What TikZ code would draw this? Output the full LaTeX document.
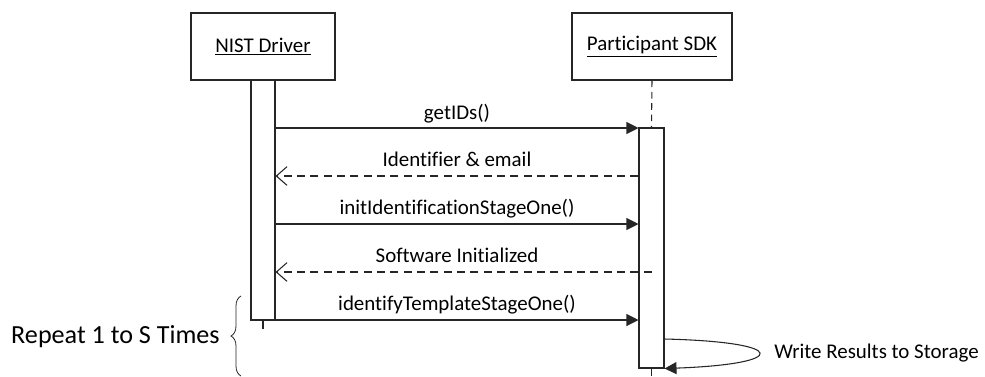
\documentclass[tikz,border=0pt]{standalone}
\usepackage{fontspec}
\setmainfont[Ligatures={NoCommon}]{Carlito}
\usetikzlibrary{arrows.meta,decorations.pathreplacing}
\tikzset{
  obj/.style={draw=black!85, line width=0.8pt, minimum width=108pt, minimum height=50.25pt, font=\fontsize{15.7}{18}\selectfont},
  actbar/.style={draw=black!85, line width=0.8pt, minimum height=180pt, inner sep=0pt},
  msg/.style={draw=black!85, line width=0.8pt, -{Triangle[length=9pt,width=9pt]}},
  ret/.style={draw=black!85, line width=0.8pt, dash pattern=on 6pt off 4pt, -{Straight Barb[length=8pt,width=14pt]}},
  life/.style={draw=black!85, line width=0.8pt, dash pattern=on 5pt off 3.5pt},
  lbl/.style={font=\fontsize{15.7}{18}\selectfont, anchor=base, inner sep=0pt}
}
\begin{document}
\begin{tikzpicture}[x=0.75pt,y=-0.75pt]
\useasboundingbox (0,0) rectangle (985,376);
% objects
\node[obj] (nist) at (263,46.5) {\underline{NIST Driver}};
\node[obj, minimum width=120pt] (sdk) at (652,46.5) {\underline{Participant SDK}};
% activation bars
\node[actbar, minimum width=18pt] (nistbar) at (263,200) {};
\node[actbar, minimum width=18.75pt] (sdkbar) at (651.5,248) {};
% lifelines
\draw[life] (sdk.south) -- (sdkbar.north);
\coordinate (nistend) at (263,329);
\coordinate (sdkend) at (651.5,376);
\draw[draw=black!85, line width=0.8pt] (nistbar.south) -- (nistend);
\draw[draw=black!85, line width=0.8pt] (sdkbar.south) -- (sdkend);
% messages
\draw[msg] (nistbar.east |- 0,128) -- (sdkbar.west |- 0,128);
\node[lbl] (m1) at (457,119) {getIDs()};
\draw[ret] (sdkbar.west |- 0,176) -- (nistbar.east |- 0,176);
\node[lbl] (m2) at (457,166) {Identifier \& email};
\draw[msg] (nistbar.east |- 0,224) -- (sdkbar.west |- 0,224);
\node[lbl] (m3) at (457,214) {initIdentificationStageOne()};
\draw[ret] (sdkbar.center |- 0,272) -- (nistbar.east |- 0,272);
\node[lbl] (m4) at (457,262) {Software Initialized};
\draw[msg] (nistbar.east |- 0,320) -- (sdkbar.west |- 0,320);
\node[lbl] (m5) at (457,310) {identifyTemplateStageOne()};
% self message
\draw[draw=black!85, line width=0.8pt, -{Triangle[length=9pt,width=9pt]}] (sdkbar.east |- 0,339) .. controls (790,342) and (790,364) .. (sdkbar.south east);
\node[font=\fontsize{15.7}{18}\selectfont, anchor=base west, inner sep=0pt] (m6) at (774,358) {Write Results to Storage};
% brace
\draw[draw=black!85, line width=0.6pt, decorate, decoration={brace, amplitude=7.5pt}] (241,376) -- (241,296);
\node[font=\fontsize{19.6}{23}\selectfont, anchor=base east, inner sep=0pt] (rep) at (220,343) {Repeat 1 to S Times};
\end{tikzpicture}
\end{document}
